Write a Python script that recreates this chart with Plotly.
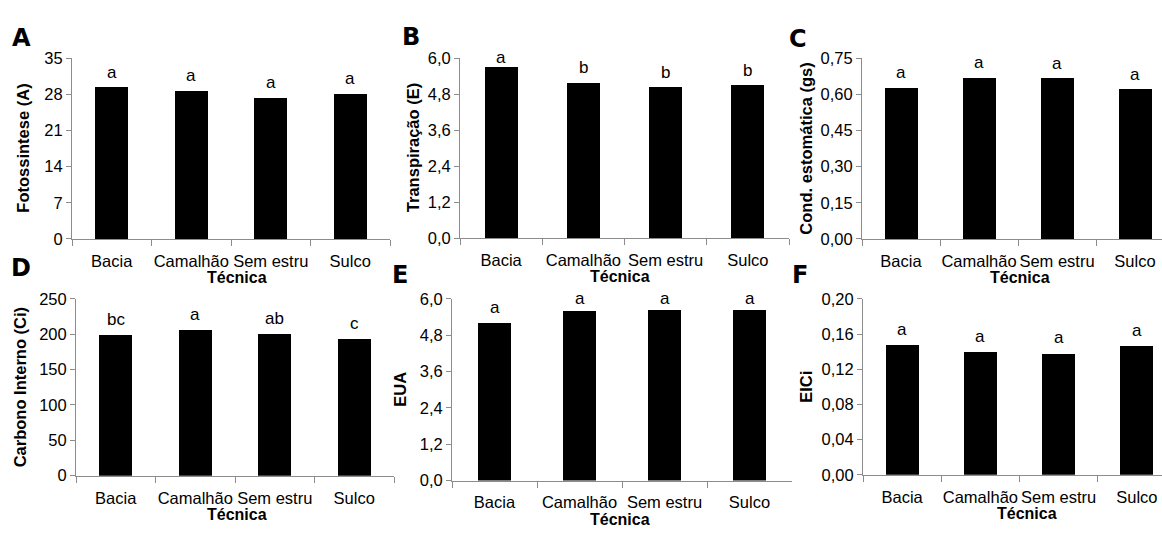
import plotly.graph_objects as go

W, H = 1162, 534

categories = ["Bacia", "Camalhão", "Sem estru", "Sulco"]

fotossintese = [29.3, 28.6, 27.3, 28.1]
letras_fotossintese = ["a", "a", "a", "a"]

transpiracao = [5.70, 5.18, 5.02, 5.09]
letras_transpiracao = ["a", "b", "b", "b"]

cond_estomatica = [0.626, 0.669, 0.665, 0.620]
letras_cond = ["a", "a", "a", "a"]

carbono_interno = [199.4, 206.2, 200.7, 193.9]
letras_carbono = ["bc", "a", "ab", "c"]

eua = [5.22, 5.61, 5.64, 5.64]
letras_eua = ["a", "a", "a", "a"]

eici = [0.148, 0.140, 0.138, 0.146]
letras_eici = ["a", "a", "a", "a"]

ticks_A = [0, 7, 14, 21, 28, 35]
ticks_B = [0, 1.2, 2.4, 3.6, 4.8, 6.0]
ticks_C = [0, 0.15, 0.30, 0.45, 0.60, 0.75]
ticks_D = [0, 50, 100, 150, 200, 250]
ticks_E = [0, 1.2, 2.4, 3.6, 4.8, 6.0]
ticks_F = [0, 0.04, 0.08, 0.12, 0.16, 0.20]

xtitle = "Técnica"

# layout (pixel boxes: x0, x1, ytop, ybottom)
panels = [
    dict(tag="A", vals=fotossintese, lets=letras_fotossintese, ylab="Fotossintese (A)", ticks=ticks_A, fmt="d",
         box=(72, 390, 51, 238), ylab_x=23, tag_xy=(21, 30), xt_x=237),
    dict(tag="B", vals=transpiracao, lets=letras_transpiracao, ylab="Transpiração (E)", ticks=ticks_B, fmt=".1f",
         box=(460, 789, 51, 237), ylab_x=413, tag_xy=(411, 29), xt_x=620),
    dict(tag="C", vals=cond_estomatica, lets=letras_cond, ylab="Cond. estomática (gs)", ticks=ticks_C, fmt=".2f",
         box=(862, 1174, 51, 238), ylab_x=806, tag_xy=(798, 31), xt_x=1020),
    dict(tag="D", vals=carbono_interno, lets=letras_carbono, ylab="Carbono Interno (Ci)", ticks=ticks_D, fmt="d",
         box=(76, 394, 300, 483), ylab_x=20, tag_xy=(21, 268), xt_x=237),
    dict(tag="E", vals=eua, lets=letras_eua, ylab="EUA", ticks=ticks_E, fmt=".1f",
         box=(452, 792, 300, 488), ylab_x=400, tag_xy=(400, 275), xt_x=620),
    dict(tag="F", vals=eici, lets=letras_eici, ylab="EICi", ticks=ticks_F, fmt=".2f",
         box=(863, 1176, 300, 482), ylab_x=806, tag_xy=(800, 275), xt_x=1027),
]

fig = go.Figure()
annotations = []
axis_color = "#8c8c8c"
TXT = "#000000"
FONT = "Liberation Sans"

for i, p in enumerate(panels, start=1):
    x0, x1, yt, yb = p["box"]
    ncat = len(categories)
    catw = (x1 - x0) / ncat
    xr_right = -0.5 + ncat * (min(x1, W) - x0) / (x1 - x0)
    ymax = p["ticks"][-1]
    xa = "x" if i == 1 else f"x{i}"
    ya = "y" if i == 1 else f"y{i}"
    fig.add_trace(go.Bar(
        x=categories, y=p["vals"], xaxis=xa, yaxis=ya,
        marker=dict(color="#000000", line=dict(width=0)),
        width=33 / catw, showlegend=False, hoverinfo="x+y",
    ))
    xkey = "xaxis" if i == 1 else f"xaxis{i}"
    ykey = "yaxis" if i == 1 else f"yaxis{i}"
    fig.update_layout(**{
        xkey: dict(
            domain=[x0 / W, min(x1, W) / W], anchor=ya, type="category",
            categoryorder="array", categoryarray=categories,
            range=[-0.5, xr_right], showgrid=False, zeroline=False,
            showline=True, linecolor=axis_color, linewidth=1,
            ticks="outside", tickson="boundaries", ticklen=6, tickcolor=axis_color,
            tickangle=0,
            tickfont=dict(family=FONT, size=16.5, color=TXT), ticklabelstandoff=7,
        ),
        ykey: dict(
            domain=[1 - yb / H, 1 - yt / H], anchor=xa, range=[0, ymax],
            tickvals=p["ticks"], tickformat=p["fmt"], showgrid=False, zeroline=False,
            showline=True, linecolor=axis_color, linewidth=1,
            ticks="outside", ticklen=5, tickcolor=axis_color,
            tickfont=dict(family=FONT, size=16.5, color=TXT),
        ),
    })
    # significance letters above bars
    ppu = (yb - yt) / ymax
    for c, v, t in zip(categories, p["vals"], p["lets"]):
        dist = (ymax - v) * ppu
        shift = min(14.5, dist - 1)
        annotations.append(dict(
            x=c, y=v, xref=xa, yref=ya, text=t, showarrow=False,
            yanchor="middle", xanchor="center", yshift=shift + 1,
            font=dict(family=FONT, size=17, color=TXT),
        ))
    # y-axis title
    annotations.append(dict(
        x=p["ylab_x"] / W, y=1 - (yt + yb) / 2 / H, xref="paper", yref="paper",
        text=f"<b>{p['ylab']}</b>", textangle=-90, showarrow=False,
        xanchor="center", yanchor="middle",
        font=dict(family=FONT, size=16.5, color=TXT),
    ))
    # x-axis title
    annotations.append(dict(
        x=p["xt_x"] / W, y=1 - (yb + 40) / H, xref="paper", yref="paper",
        text=f"<b>{xtitle}</b>", showarrow=False, xanchor="center", yanchor="middle",
        font=dict(family=FONT, size=16, color=TXT),
    ))
    # panel letter
    annotations.append(dict(
        x=p["tag_xy"][0] / W, y=1 - p["tag_xy"][1] / H, xref="paper", yref="paper",
        text=f"<b>{p['tag']}</b>", showarrow=False, xanchor="center", yanchor="middle",
        font=dict(family="DejaVu Sans", size=24, color=TXT),
    ))

fig.update_layout(
    width=W, height=H, margin=dict(l=0, r=0, t=0, b=0),
    paper_bgcolor="white", plot_bgcolor="white",
    separators=",.", annotations=annotations, bargap=0,
)

fig.write_html("out.html")
